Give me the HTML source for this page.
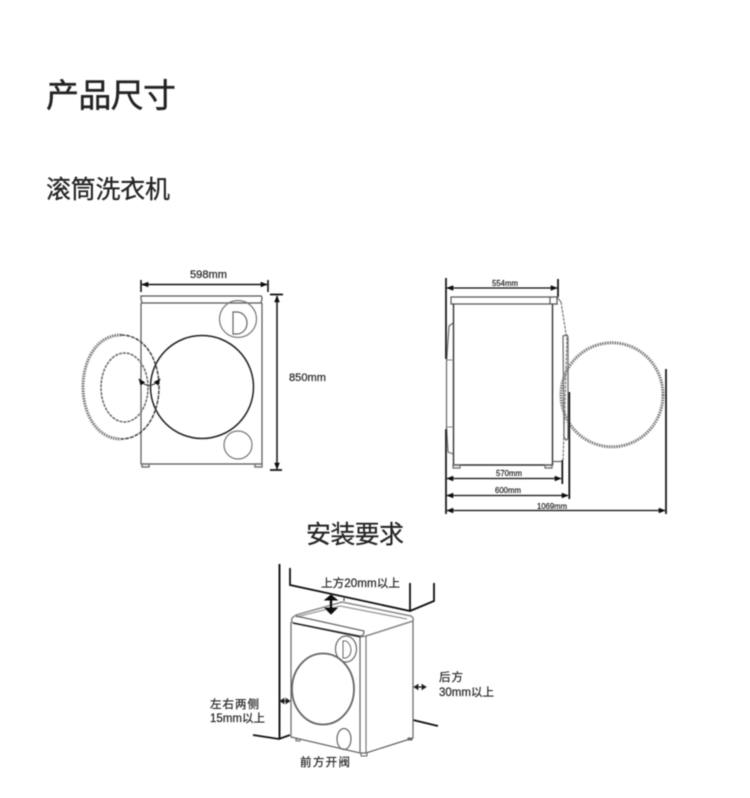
<!DOCTYPE html>
<html><head><meta charset="utf-8">
<style>
html,body{margin:0;padding:0;background:#fff}
svg{display:block}
text{font-family:"Liberation Sans","Noto Sans CJK SC",sans-serif;fill:#222;stroke:#222;stroke-width:.2;font-weight:400}
</style></head>
<body>
<svg width="750" height="798" viewBox="0 0 750 798" xmlns="http://www.w3.org/2000/svg">
<defs>
<filter id="b" x="-5%" y="-5%" width="110%" height="110%"><feGaussianBlur stdDeviation="0.4"/></filter>
<marker id="a" viewBox="0 0 10 10" refX="9" refY="5" markerWidth="7" markerHeight="7" markerUnits="userSpaceOnUse" orient="auto-start-reverse"><path d="M0 1L10 5L0 9Z" fill="#111" stroke="none"/></marker>
</defs>
<g filter="url(#b)">
<text x="46" y="107" font-size="33" textLength="130" lengthAdjust="spacing" style="stroke-width:.4">产品尺寸</text>
<text x="46" y="198" font-size="25" textLength="124" lengthAdjust="spacing" style="stroke-width:.25">滚筒洗衣机</text>
<text x="306" y="543" font-size="25" textLength="98" lengthAdjust="spacing" style="stroke-width:.2">安装要求</text>
</g>

<g filter="url(#b)" fill="none" stroke="#333">
<!-- front view -->
<path d="M141 296H261Q262 296 262 299L261 303H142L141 299Z" stroke="#555" stroke-width="1.2"/>
<path d="M141 303V464H262V303" stroke="#555" stroke-width="1.2"/>
<path d="M142 464h7v3h-7zM255 464h7v3h-7z" stroke="#777" stroke-width="1.5"/>
<circle cx="238" cy="319" r="18.500" stroke="#777" stroke-width="1.2"/>
<path d="M233 312H237A10 11 0 0 1 237 334H233Z" stroke="#666" stroke-width="1.2"/>
<circle cx="202" cy="387" r="51.500" stroke="#222" stroke-width="1.500"/>
<circle cx="238" cy="445" r="14" stroke="#777" stroke-width="1.2"/>
<path d="M121 335C97 335 83 360 83 387C83 414 97 439 121 439" stroke="#777" stroke-width="3" stroke-dasharray="1.500 1"/>
<path d="M121 335C145 335 159 360 159 387C159 414 145 439 121 439" stroke="#444" stroke-width="1.500" stroke-dasharray="4 1"/>
<ellipse cx="124.500" cy="387.500" rx="23.500" ry="34.500" stroke="#666" stroke-width="1.500" stroke-dasharray="3 1"/>
<path d="M139 379Q149 392 160 379" stroke="#333" stroke-width="1.100" marker-start="url(#a)" marker-end="url(#a)"/>
<!-- front dims -->
<path d="M141 280V292M268 280V292" stroke="#111" stroke-width="1.600"/>
<path d="M142 284.500H267" stroke="#111" stroke-width="1.500" marker-start="url(#a)" marker-end="url(#a)"/>
<path d="M270 294.500H283M270 470H282" stroke="#111" stroke-width="1.800"/>
<path d="M277 296V469" stroke="#111" stroke-width="1.500" marker-start="url(#a)" marker-end="url(#a)"/>

<!-- side view -->
<path d="M451 297H557V304H451ZM550 297V304" stroke="#555" stroke-width="1.2"/>
<path d="M557 297L561 302" stroke="#555"/>
<path d="M453.500 304V465H552.500V304" stroke="#333" stroke-width="1.400"/>
<path d="M552.500 304H558M552.500 461.500H562" stroke="#666" stroke-width="1.200"/>
<path d="M453 323L449 326L446.500 362V427L448 452L453 454" stroke="#666" stroke-width="1.200"/>
<path d="M447 360H453M447 427H453" stroke="#888"/>
<path d="M453 465h7v3h-7zM545 465h7v3h-7z" stroke="#666" stroke-width="1.200"/>
<path d="M561 302L567 340L563 461" stroke="#777" stroke-width="1.200" stroke-dasharray="3 1"/>
<path d="M563 336l3-1q2 0 2 3v99q0 3-2 3l-2-3z" stroke="#666" stroke-width="1.200"/>
<ellipse cx="612" cy="394.800" rx="51" ry="52" stroke="#777" stroke-width="3" stroke-dasharray="1.500 1"/>
<!-- side dims -->
<path d="M446 278V359M446 429V514M558 279V297M562.300 460V484M569.300 392V499M666 369V514" stroke="#111" stroke-width="1.700"/>
<path d="M447 288H557" stroke="#111" stroke-width="1.300" marker-start="url(#a)" marker-end="url(#a)"/>
<path d="M447 478.500H561" stroke="#111" stroke-width="1.300" marker-start="url(#a)" marker-end="url(#a)"/>
<path d="M447 495.500H568" stroke="#111" stroke-width="1.300" marker-start="url(#a)" marker-end="url(#a)"/>
<path d="M447 510.500H665" stroke="#111" stroke-width="1.300" marker-start="url(#a)" marker-end="url(#a)"/>

<!-- install -->
<path d="M279.500 564V739" stroke="#111" stroke-width="1.900"/>
<path d="M253 735L279 739L290 735" stroke="#111" stroke-width="1.800"/>
<path d="M290 568V585L410 611L434 601V583M410 583V611" stroke="#111" stroke-width="1.800"/>
<path d="M413 720L438 726" stroke="#111" stroke-width="1.800"/>
<path d="M344 601V598" stroke="#222"/>
<!-- machine -->
<path d="M292 618L296 615L342 602L411 616Q414 618 413 621L366 636" stroke="#888" stroke-width="1.500"/>
<path d="M296 617L340 606L407 619" stroke="#999" stroke-width="1.300"/>
<path d="M292 618Q291 621 293 623L360 636Q364 636 364 631L296 616" stroke="#666" stroke-width="1.200"/>
<path d="M291 622V737L360 753V637" stroke="#666" stroke-width="1.200"/>
<path d="M293 623L361 637" stroke="#222" stroke-width="1.500"/>
<path d="M360 637L366 636V753H360" stroke="#777" stroke-width="1.200"/>
<path d="M413 621V738L366 753" stroke="#666" stroke-width="1.200"/>
<ellipse cx="323" cy="689" rx="31" ry="35.500" stroke="#666" stroke-width="1.800"/>
<ellipse cx="346" cy="649" rx="10.500" ry="13" stroke="#666" stroke-width="1.200"/>
<path d="M343 641H346Q351 644 351 650Q351 656 346 658H343Z" stroke="#666"/>
<ellipse cx="344" cy="739" rx="7" ry="10.500" stroke="#666" stroke-width="1.200"/>
<path d="M296 739h4v2h-4zM361 753h6v3h-6zM408 738h4v2h-4z" stroke="#666"/>
<!-- thick arrows -->
<path d="M331 598V609" stroke="#111" stroke-width="2.500"/>
<path d="M325 600L331 595L337 600ZM325 608L331 614L337 608Z" fill="#111" stroke="#111"/>
<path d="M281 701H289" stroke="#111" stroke-width="1.200"/>
<path d="M280 701l4-2.500v5zM290 701l-4-2.500v5z" fill="#111"/>
<path d="M415 687H425" stroke="#111" stroke-width="1.200"/>
<path d="M414 687l4-2.500v5zM426 687l-4-2.500v5z" fill="#111"/>
</g>

<g filter="url(#b)">
<text x="190" y="278" font-size="11" textLength="37" lengthAdjust="spacingAndGlyphs">598mm</text>
<text x="289" y="381" font-size="11" textLength="37" lengthAdjust="spacingAndGlyphs">850mm</text>
<text x="492" y="286" font-size="8" textLength="26" lengthAdjust="spacingAndGlyphs">554mm</text>
<text x="496" y="476" font-size="8" textLength="26" lengthAdjust="spacingAndGlyphs">570mm</text>
<text x="495" y="493" font-size="8" textLength="26" lengthAdjust="spacingAndGlyphs">600mm</text>
<text x="537" y="509" font-size="8" textLength="30" lengthAdjust="spacingAndGlyphs">1069mm</text>
<text x="321" y="587" font-size="11.500" textLength="79" lengthAdjust="spacingAndGlyphs">上方20mm以上</text>
<text x="439" y="681" font-size="11.500" textLength="24" lengthAdjust="spacing">后方</text>
<text x="439" y="696" font-size="11.500" textLength="55" lengthAdjust="spacingAndGlyphs">30mm以上</text>
<text x="210" y="708" font-size="11.500" textLength="49" lengthAdjust="spacing">左右两侧</text>
<text x="210" y="722" font-size="11.500" textLength="55" lengthAdjust="spacingAndGlyphs">15mm以上</text>
<text x="300" y="766" font-size="11.500" textLength="50" lengthAdjust="spacing">前方开阀</text>
</g>
</svg>
</body></html>
